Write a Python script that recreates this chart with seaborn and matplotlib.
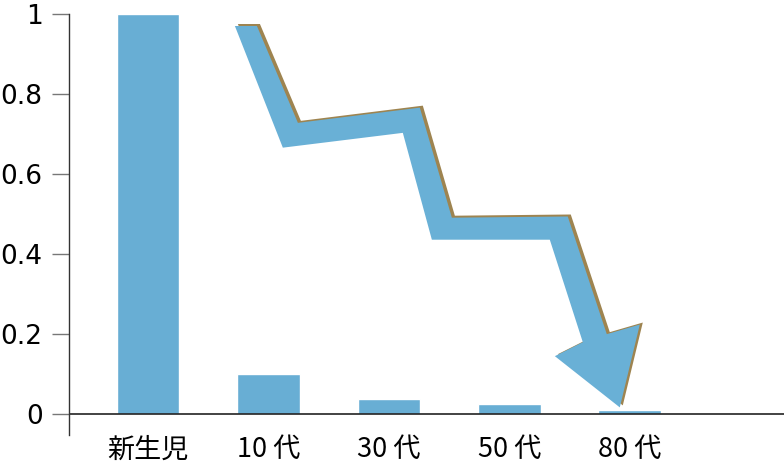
import matplotlib
matplotlib.use('Agg')
import matplotlib.pyplot as plt
import matplotlib.transforms as mtransforms
from matplotlib.patches import Polygon
import seaborn as sns

# data
categories = ['新生児', '10 代', '30 代', '50 代', '80 代']
values = [1.0, 0.1, 0.037, 0.025, 0.01]
y_ticks = [0, 0.2, 0.4, 0.6, 0.8, 1.0]
y_tick_labels = ['0', '0.2', '0.4', '0.6', '0.8', '1']

# zigzag arrow outline (x in category units, y in value units)
arrow_x = [0.722, 0.905, 1.245, 2.257, 2.523, 3.485, 3.809, 4.083, 3.917,
           3.378, 3.610, 3.336, 2.357, 2.116, 1.120]
arrow_y = [0.970, 0.970, 0.728, 0.766, 0.491, 0.494, 0.200, 0.224, 0.017,
           0.145, 0.180, 0.436, 0.436, 0.703, 0.666]

sns.set_style('white')
plt.rcParams['font.family'] = ['DejaVu Sans', 'Noto Sans CJK JP']

fig = plt.figure(figsize=(7.84, 4.73), dpi=100)
ax = fig.add_axes([69 / 784, 38 / 473, 715 / 784, 421 / 473])

sns.barplot(x=categories, y=values, color='#68AED4', saturation=1,
            width=0.52, ax=ax)

# arrow with a brown shadow peeking out on the upper right
pts = list(zip(arrow_x, arrow_y))
shadow_tr = mtransforms.offset_copy(ax.transData, fig=fig, x=3, y=2, units='dots')
ax.add_patch(Polygon(pts, closed=True, facecolor='#9E8450', edgecolor='none',
                     transform=shadow_tr, zorder=3))
ax.add_patch(Polygon(pts, closed=True, facecolor='#69B0D6', edgecolor='none',
                     zorder=4))

ax.set_xlim(-0.655, 5.28)
ax.set_ylim(-0.052, 1.0)
ax.axhline(0, color='#222222', lw=1.2, zorder=2)

for s in ['top', 'right', 'bottom']:
    ax.spines[s].set_visible(False)
ax.spines['left'].set_color('#333333')
ax.spines['left'].set_linewidth(1.0)

ax.set_yticks(y_ticks)
ax.set_yticklabels(y_tick_labels, fontsize=19, color='black')
ax.tick_params(axis='y', length=12, width=1, color='#777777', pad=7,
               left=True)
ax.tick_params(axis='x', length=0, pad=1)
for lab in ax.get_xticklabels():
    lab.set_family(['Noto Sans CJK JP', 'DejaVu Sans'])
    lab.set_fontsize(19.5)
    lab.set_color('black')
ax.set_xlabel('')
ax.set_ylabel('')

fig.savefig('out.png', dpi=100)
